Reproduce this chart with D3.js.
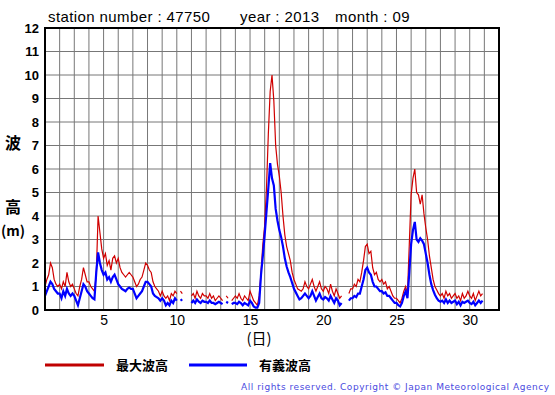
<!DOCTYPE html>
<html>
<head>
<meta charset="utf-8">
<script src="https://cdn.jsdelivr.net/npm/d3@7"></script>
<style>
  body { margin: 0; background: #fff; }
  svg { display: block; }
</style>
</head>
<body>
<script>
// 3-hourly readings, 8 per day, Sept 1 00h .. Sept 30 21h
let stepsPerDay = 8;
let xTicks = [5, 10, 15, 20, 25, 30];
let yTicks = [0, 1, 2, 3, 4, 5, 6, 7, 8, 9, 10, 11, 12];

let maxWave = [
  1.0, 1.3, 1.5, 2.0, 1.8, 1.3, 1.1, 1.0,   // 1
  1.1, 0.9, 1.2, 1.0, 1.6, 1.2, 1.0, 1.1,   // 2
  0.9, 0.7, 0.6, 1.0, 1.3, 1.8, 1.5, 1.2,   // 3
  1.2, 1.0, 0.9, 0.8, 1.5, 4.0, 3.3, 2.6,   // 4
  2.2, 2.4, 1.9, 2.1, 1.7, 2.2, 2.3, 2.0,   // 5
  2.2, 1.8, 1.6, 1.5, 1.4, 1.5, 1.6, 1.5,   // 6
  1.4, 1.2, 1.0, 1.1, 1.3, 1.4, 1.7, 2.0,   // 7
  1.9, 1.7, 1.6, 1.2, 1.0, 0.9, 0.8, 0.6,   // 8
  0.8, 0.6, 0.5, 0.6, 0.4, 0.7, 0.6, 0.8,   // 9
  0.7, null, 0.8, 0.7, null, null, null, null, // 10
  0.6, 0.7, 0.5, 0.8, 0.6, 0.5, 0.7, 0.6,   // 11
  0.6, 0.5, 0.7, 0.5, 0.6, 0.4, 0.5, 0.6,   // 12
  0.5, 0.4, null, 0.6, 0.5, null, 0.4, 0.5, // 13
  0.6, 0.5, 0.7, 0.5, 0.4, 0.6, 0.5, 0.4,   // 14
  0.8, 0.6, 0.4, 0.3, 0.2, 0.6, 1.6, 2.8,   // 15
  3.6, 5.2, 7.5, 9.3, 10.0, 8.9, 7.0, 6.2,  // 16
  5.7, 5.0, 4.0, 3.2, 2.7, 2.4, 2.1, 1.6,   // 17
  1.3, 1.1, 0.9, 0.85, 0.8, 0.9, 1.2, 1.0,  // 18
  0.9, 1.1, 1.3, 1.0, 0.8, 1.0, 1.2, 0.9,   // 19
  0.8, 1.0, 0.9, 0.7, 1.1, 0.8, 0.6, 0.9,   // 20
  0.7, 0.5, 0.6, null, null, null, 0.7, 0.9, // 21
  0.9, 1.1, 1.0, 1.3, 1.2, 1.6, 2.1, 2.7,   // 22
  2.8, 2.4, 2.5, 1.8, 1.5, 1.6, 1.3, 1.2,   // 23
  1.3, 1.1, 1.2, 0.9, 1.0, 0.8, 0.6, 0.5,   // 24
  0.5, 0.4, 0.3, 0.5, 0.8, 1.0, 0.7, 2.8,   // 25
  4.9, 5.6, 6.0, 5.0, 4.9, 4.5, 4.9, 4.1,   // 26
  3.5, 3.0, 2.3, 1.8, 1.3, 1.0, 0.85, 0.7,  // 27
  0.6, 0.7, 0.5, 0.8, 0.6, 0.7, 0.5, 0.6,   // 28
  0.7, 0.5, 0.6, 0.4, 0.7, 0.5, 0.6, 0.8,   // 29
  0.6, 0.5, 0.7, 0.4, 0.6, 0.8, 0.6, 0.7    // 30
];

let sigWave = [
  0.6, 0.8, 1.0, 1.2, 1.1, 0.9, 0.8, 0.7,
  0.7, 0.5, 0.8, 0.6, 0.9, 0.7, 0.6, 0.7,
  0.6, 0.4, 0.2, 0.5, 0.8, 1.1, 1.0, 0.8,
  0.7, 0.6, 0.5, 0.45, 1.6, 2.45, 2.0, 1.7,
  1.5, 1.6, 1.3, 1.4, 1.2, 1.4, 1.5, 1.3,
  1.1, 1.0, 0.9, 0.85, 0.8, 0.9, 0.95, 0.9,
  0.9, 0.7, 0.5, 0.6, 0.7, 0.8, 1.0, 1.2,
  1.2, 1.1, 1.0, 0.7, 0.6, 0.55, 0.5, 0.4,
  0.5, 0.4, 0.2, 0.3, 0.2, 0.4, 0.3, 0.5,
  0.4, null, 0.4, 0.45, null, null, null, null,
  0.3, 0.4, 0.3, 0.45, 0.35, 0.3, 0.4, 0.35,
  0.35, 0.3, 0.4, 0.3, 0.3, 0.25, 0.3, 0.35,
  0.3, 0.25, null, 0.35, 0.3, null, 0.25, 0.3,
  0.3, 0.25, 0.35, 0.3, 0.2, 0.3, 0.25, 0.2,
  0.4, 0.3, 0.15, 0.1, 0.1, 0.3, 1.5, 2.3,
  3.2, 4.2, 5.2, 6.25, 5.6, 5.3, 4.3, 3.8,
  3.4, 3.1, 2.7, 2.2, 1.85, 1.6, 1.4, 1.15,
  0.9, 0.75, 0.6, 0.45, 0.5, 0.6, 0.7, 0.6,
  0.5, 0.6, 0.8, 0.6, 0.4, 0.55, 0.7, 0.5,
  0.45, 0.55, 0.5, 0.4, 0.6, 0.45, 0.3, 0.5,
  0.4, 0.2, 0.3, null, null, null, 0.4, 0.5,
  0.5, 0.6, 0.55, 0.7, 0.7, 1.0, 1.3, 1.7,
  1.8, 1.6, 1.5, 1.2, 1.0, 1.0, 0.9, 0.8,
  0.8, 0.7, 0.75, 0.6, 0.6, 0.5, 0.4, 0.3,
  0.3, 0.2, 0.15, 0.3, 0.6, 0.8, 0.5, 1.6,
  2.8, 3.4, 3.75, 3.0, 2.9, 3.05, 2.95, 2.8,
  2.4, 2.0, 1.5, 1.1, 0.85, 0.65, 0.5, 0.4,
  0.35, 0.4, 0.3, 0.45, 0.3, 0.4, 0.3, 0.35,
  0.4, 0.25, 0.35, 0.2, 0.35, 0.3, 0.35, 0.4,
  0.3, 0.25, 0.35, 0.2, 0.3, 0.4, 0.3, 0.4
];

let width = 555;
let height = 395;
let plot = { left: 45, right: 499, top: 28, bottom: 310 };

let svg = d3.select('body').append('svg')
    .attr('width', width)
    .attr('height', height)
    .style('font-family', '"Liberation Sans", Arial, sans-serif');

let x = d3.scaleLinear().domain([1, 32]).range([plot.left, plot.right]);
let y = d3.scaleLinear().domain([0, 12]).range([plot.bottom, plot.top]);

// grid: one vertical line per day, one horizontal per metre
svg.append('g')
  .selectAll('line')
  .data(d3.range(2, 32))
  .enter().append('line')
    .attr('x1', function(d){ return x(d); })
    .attr('x2', function(d){ return x(d); })
    .attr('y1', plot.top)
    .attr('y2', plot.bottom)
    .attr('stroke', '#777')
    .attr('stroke-width', 1);

svg.append('g')
  .selectAll('line')
  .data(yTicks.slice(1, -1))
  .enter().append('line')
    .attr('x1', plot.left)
    .attr('x2', plot.right)
    .attr('y1', function(d){ return y(d); })
    .attr('y2', function(d){ return y(d); })
    .attr('stroke', '#777')
    .attr('stroke-width', 1);

// series
function toPoints(values) {
  return values.map(function(v, i) {
    return { t: 1 + i / stepsPerDay, v: v };
  });
}

let line = d3.line()
  .defined(function(d){ return d.v !== null; })
  .x(function(d){ return x(d.t); })
  .y(function(d){ return y(d.v); });

svg.append('path')
    .datum(toPoints(maxWave))
    .attr('fill', 'none')
    .attr('stroke', '#d00000')
    .attr('stroke-width', 1.2)
    .attr('d', line);

svg.append('path')
    .datum(toPoints(sigWave))
    .attr('fill', 'none')
    .attr('stroke', '#0000ff')
    .attr('stroke-width', 2.2)
    .attr('d', line);

// frame
svg.append('rect')
    .attr('x', plot.left)
    .attr('y', plot.top)
    .attr('width', plot.right - plot.left)
    .attr('height', plot.bottom - plot.top)
    .attr('fill', 'none')
    .attr('stroke', '#000')
    .attr('stroke-width', 2);

// axes (labels only, grid drawn above)
let yAxis = d3.axisLeft(y).tickValues(yTicks).tickSize(0).tickPadding(6);
svg.append('g')
    .attr('transform', 'translate(' + plot.left + ',0)')
    .call(yAxis)
    .call(function(g){ g.select('.domain').remove(); })
    .selectAll('text')
      .style('font-size', '13px')
      .style('font-weight', 'bold')
      .style('font-family', '"Liberation Sans", Arial, sans-serif')
      .attr('fill', '#000');

let xAxis = d3.axisBottom(x).tickValues(xTicks).tickSize(0).tickPadding(5);
svg.append('g')
    .attr('transform', 'translate(0,' + plot.bottom + ')')
    .call(xAxis)
    .call(function(g){ g.select('.domain').remove(); })
    .selectAll('text')
      .style('font-size', '14px')
      .style('font-family', '"Liberation Sans", Arial, sans-serif')
      .attr('fill', '#000');

// titles
let titleParts = [
  { text: 'station number : 47750', x: 48 },
  { text: 'year : 2013', x: 240 },
  { text: 'month : 09', x: 335 }
];
titleParts.forEach(function(d) {
  svg.append('text')
      .attr('x', d.x).attr('y', 22)
      .style('font-size', '15px')
      .style('letter-spacing', '0.4px')
      .text(d.text);
});

let cjk = '"Noto Sans CJK JP", sans-serif';
svg.append('text').attr('x', 13).attr('y', 149).attr('text-anchor', 'middle')
    .style('font-family', cjk).style('font-size', '16px').style('font-weight', 'bold').text('波');
svg.append('text').attr('x', 13).attr('y', 213).attr('text-anchor', 'middle')
    .style('font-family', cjk).style('font-size', '16px').style('font-weight', 'bold').text('高');
svg.append('text').attr('x', 13).attr('y', 236).attr('text-anchor', 'middle')
    .style('font-family', cjk).style('font-size', '14px').style('font-weight', 'bold').text('(m)');
svg.append('text').attr('x', 259).attr('y', 344).attr('text-anchor', 'middle')
    .style('font-family', cjk).style('font-size', '15px').text('(日)');

// legend
let legend = [
  { name: '最大波高', color: '#c00000', x1: 45, x2: 104, tx: 116 },
  { name: '有義波高', color: '#0000ff', x1: 189, x2: 247, tx: 259 }
];
legend.forEach(function(d) {
  svg.append('line')
      .attr('x1', d.x1).attr('x2', d.x2)
      .attr('y1', 365).attr('y2', 365)
      .attr('stroke', d.color).attr('stroke-width', 3);
  svg.append('text')
      .attr('x', d.tx).attr('y', 370)
      .style('font-family', cjk).style('font-size', '13px').style('font-weight', 'bold')
      .text(d.name);
});

svg.append('text')
    .attr('x', 241).attr('y', 390)
    .attr('textLength', 308)
    .style('font-family', '"DejaVu Sans", sans-serif')
    .style('font-size', '9px')
    .attr('fill', '#4a4ae0')
    .text('All rights reserved. Copyright \u00a9 Japan Meteorological Agency');
</script>
</body>
</html>
